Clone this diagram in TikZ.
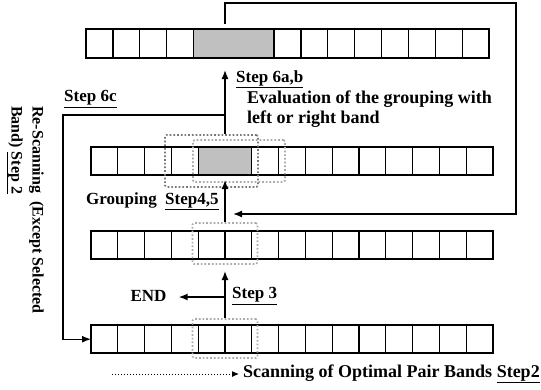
\documentclass[tikz,border=0pt]{standalone}
\usepackage{fontspec}
\setmainfont{Liberation Serif}
\usepackage{tikz}
\usetikzlibrary{arrows.meta,positioning,calc}
\usepackage{xcolor}
\definecolor{CellG}{RGB}{192,192,192}
\definecolor{DotD} {RGB}{120,120,120}
\definecolor{DotL} {RGB}{170,170,170}

\tikzset{
  cell/.style={draw=black,line width=1.3pt},
  flow/.style={-{Latex[length=9pt,width=7pt]},line width=1.4pt},
  band/.style={draw=DotL,dotted,line width=1.7pt,rounded corners=1.5pt,
    inner sep=0pt},
  lbl/.style={font=\bfseries\fontsize{17}{21}\selectfont,inner sep=0pt},
  lblL/.style={lbl,font=\bfseries\fontsize{18}{20}\selectfont},
}
% \bandrow{name}{x0}{top}{cell width}{height}
\newcommand{\bandrow}[5]{%
  \node[inner sep=0pt,minimum width=15*#4pt,minimum height=#5pt,
    anchor=north west] (#1) at (#2,#3) {};
  \foreach \i in {0,...,14}
    \draw[cell,fill=white] ({#2+\i*#4},#3) rectangle ++(#4,#5);
}

\begin{document}
\begin{tikzpicture}[x=1pt,y=-1pt]
  \useasboundingbox (0,0) rectangle (541,389);

  % the four band rows
  \bandrow{rowA}{86}{29}{26.87}{29}
  \draw[cell,fill=CellG] (193.5,29) rectangle ++(80.6,29);
  \bandrow{rowB}{91}{147}{26.8}{28}
  \draw[cell,fill=CellG] (198.2,147) rectangle ++(53.6,28);
  \bandrow{rowC}{91}{231}{26.8}{28}
  \bandrow{rowD}{91}{325}{26.8}{28}

  % dotted windows
  \node[band,draw=DotD,minimum width=93pt,minimum height=52pt]
    (grpL) at (211.5,161) {};
  \node[band,minimum width=92pt,minimum height=42pt] (grpR) at (239,161) {};
  \node[band,minimum width=65pt,minimum height=41pt] (pairC) at (225,243.5) {};
  \node[band,minimum width=65pt,minimum height=39pt] (pairD) at (225,338.5) {};

  % labels
  \node[lbl,anchor=west] (s6ab) at (236,79) {\underline{Step 6a,b}};
  \node[lblL,anchor=north west,align=left] (evalT) at (247,91)
    {Evaluation of the grouping with\\left or right band};
  \node[lbl,anchor=west] (s6c) at (64,99) {\underline{Step 6c}};
  \node[lbl,anchor=west] (grpT) at (86,201) {Grouping~~\underline{Step4,5}};
  \node[lbl] (endN) at (148.5,296) {END};
  \node[lbl,anchor=west] (s3) at (232,296) {\underline{Step 3}};
  \node[lblL,anchor=west] (legT) at (243,374)
    {Scanning of Optimal Pair Bands \underline{Step2}};
  \node[lbl,font=\bfseries\fontsize{16}{21}\selectfont,rotate=-90,
    anchor=north west,align=left] (rescan) at (44,106)
    {Re-Scanning~~(Except Selected\\Band) \underline{Step 2}};

  % flow along the centre line
  \coordinate (tipC) at (225,271);
  \coordinate (tipB) at (225,180);
  \coordinate (tipA) at (225,70);
  \coordinate (endJ) at (225,297);
  \coordinate (j6c) at (225,115);
  \coordinate (left6c) at (63,115);
  \coordinate (topJ) at (225,24);
  \coordinate (loopR) at (516,3);
  \coordinate (tipR) at (233,214);
  \coordinate (legS) at (112,374);

  \draw[flow] (pairD.north) -- (tipC);
  \draw[flow] (endJ) -- ([xshift=12pt]endN.east |- endJ);
  \draw[flow] (pairC.north) -- (tipB);
  \draw[flow] (grpL.north -| pairC.north) -- (tipA);
  \draw[flow] (j6c) -- (left6c) |- (rowD.west);
  \draw[flow] (topJ) |- (loopR) |- (tipR);
  \draw[dotted,line width=1pt,-{Latex[length=7pt,width=6pt]}] (legS)
    -- ([xshift=-4pt]legT.west);
\end{tikzpicture}
\end{document}
